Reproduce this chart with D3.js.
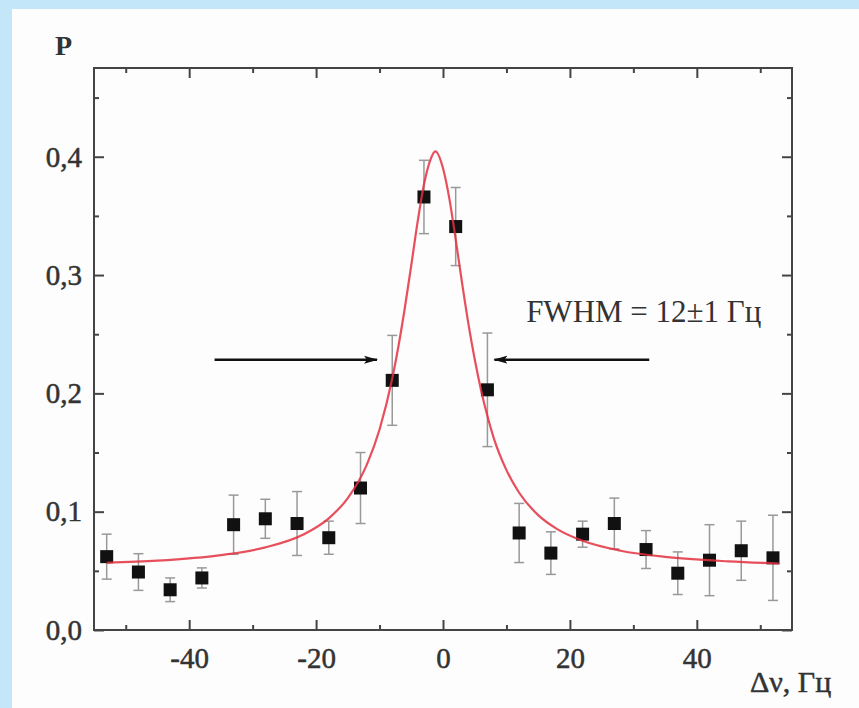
<!DOCTYPE html>
<html>
<head>
<meta charset="utf-8">
<script src="https://cdnjs.cloudflare.com/ajax/libs/d3/7.8.5/d3.min.js"></script>
<style>
body { margin: 0; background: #c4e6f9; }
svg { display: block; }
.tick text { font-family: "Liberation Serif", "DejaVu Serif", serif; font-size: 29px; fill: #333; stroke: #333; stroke-width: 0.5px; }
</style>
</head>
<body>
<svg id="chart" width="859" height="708"></svg>
<script>
// measured points: detuning (Hz), probability, error half-width
var detuning = [-53, -48, -43, -38, -33, -28, -23, -18, -13, -8, -3, 2, 7, 12, 17, 22, 27, 32, 37, 42, 47, 52];
var prob = [0.062, 0.049, 0.034, 0.044, 0.089, 0.094, 0.090, 0.078, 0.120, 0.211, 0.366, 0.341, 0.203,
            0.082, 0.065, 0.081, 0.090, 0.068, 0.048, 0.059, 0.067, 0.061];
var probErr = [0.019, 0.0155, 0.010, 0.0085, 0.025, 0.0165, 0.027, 0.014, 0.030, 0.038, 0.031, 0.033, 0.048,
               0.025, 0.018, 0.011, 0.0215, 0.016, 0.018, 0.030, 0.025, 0.036];

// red fit line
var fitX = [-53, -45, -35, -28, -22, -18, -15, -12, -10, -8, -7, -6, -5, -4, -3, -2, -1.2, 0, 1, 2, 3, 4, 5, 6, 7, 8, 10, 12, 15, 18, 22, 28, 35, 45, 53];
var fitY = [0.0568, 0.0586, 0.0633, 0.0698, 0.0807, 0.0944, 0.1115, 0.1398, 0.1695, 0.2126, 0.2405, 0.2728, 0.3083,
            0.3449, 0.3765, 0.3972, 0.4045, 0.3903, 0.3646, 0.3301, 0.2935, 0.2590, 0.2288, 0.2027, 0.1808, 0.1622,
            0.1351, 0.1160, 0.0971, 0.0853, 0.0754, 0.0670, 0.0618, 0.0580, 0.0562];

var xTicks = [-40, -20, 0, 20, 40];
var xMinor = [-50, -30, -10, 10, 30, 50];
var yTicks = [0, 0.1, 0.2, 0.3, 0.4];
var yMinor = [0.05, 0.15, 0.25, 0.35, 0.45];

// FWHM arrows: [tail, head] in Hz, at level arrowLevel
var arrowLeft = [-36, -10.4];
var arrowRight = [32.5, 8.1];
var arrowLevel = 0.2285;
var fwhmText = "FWHM = 12\u00b11 \u0413\u0446";
var fwhmPos = [13.1, 0.26];

(function () {
var svg = d3.select("#chart");
var left = 94, right = 792, top = 68, bottom = 630;

svg.append("rect").attr("x", 12).attr("y", 9).attr("width", 847).attr("height", 699).attr("fill", "#fdfdfd");

var x = d3.scaleLinear().domain([-55, 55]).range([left, right]);
var y = d3.scaleLinear().domain([0, 0.475]).range([bottom, top]);

function comma(d) { return d3.format(".1f")(d).replace(".", ","); }
function plain(d) { return String(d); }

function drawAxis(axis, tx, ty) {
    var g = svg.append("g").attr("transform", "translate(" + tx + "," + ty + ")").call(axis);
    g.select(".domain").remove();
    g.selectAll(".tick line").attr("stroke", "#444").attr("stroke-width", 2);
    return g;
}

// major + minor ticks, all pointing inward
drawAxis(d3.axisBottom(x).tickValues(xTicks).tickFormat(plain).tickSize(-10).tickPadding(17), 0, bottom);
drawAxis(d3.axisBottom(x).tickValues(xMinor).tickFormat("").tickSize(-5), 0, bottom);
drawAxis(d3.axisTop(x).tickValues(xTicks).tickFormat("").tickSize(-10), 0, top);
drawAxis(d3.axisTop(x).tickValues(xMinor).tickFormat("").tickSize(-5), 0, top);
drawAxis(d3.axisLeft(y).tickValues(yTicks).tickFormat(comma).tickSize(-10).tickPadding(12), left, 0);
drawAxis(d3.axisLeft(y).tickValues(yMinor).tickFormat("").tickSize(-5), left, 0);
drawAxis(d3.axisRight(y).tickValues(yTicks).tickFormat("").tickSize(-10), right, 0);
drawAxis(d3.axisRight(y).tickValues(yMinor).tickFormat("").tickSize(-5), right, 0);

svg.append("rect")
    .attr("x", left).attr("y", top).attr("width", right - left).attr("height", bottom - top)
    .attr("fill", "none").attr("stroke", "#444").attr("stroke-width", 2);

var pts = detuning.map(function (d, i) { return {x: d, y: prob[i], e: probErr[i]}; });

// error bars
var eb = svg.append("g").attr("stroke", "#999").attr("stroke-width", 1.5);
pts.forEach(function (p) {
    var px = x(p.x), y1 = y(p.y + p.e), y2 = y(p.y - p.e);
    eb.append("line").attr("x1", px).attr("x2", px).attr("y1", y1).attr("y2", y2);
    eb.append("line").attr("x1", px - 5).attr("x2", px + 5).attr("y1", y1).attr("y2", y1);
    eb.append("line").attr("x1", px - 5).attr("x2", px + 5).attr("y1", y2).attr("y2", y2);
});

svg.append("g").selectAll("rect").data(pts).enter().append("rect")
    .attr("x", function (d) { return x(d.x) - 6.5; })
    .attr("y", function (d) { return y(d.y) - 6.5; })
    .attr("width", 13).attr("height", 13)
    .attr("fill", "#111");

var fit = fitX.map(function (d, i) { return [d, fitY[i]]; });
var line = d3.line().x(function (d) { return x(d[0]); }).y(function (d) { return y(d[1]); }).curve(d3.curveMonotoneX);
svg.append("path").datum(fit).attr("d", line)
    .attr("fill", "none").attr("stroke", "#e3303f").attr("stroke-width", 2.2).attr("stroke-opacity", 0.85);

// arrows
svg.append("defs").append("marker")
    .attr("id", "head").attr("markerUnits", "userSpaceOnUse")
    .attr("markerWidth", 14).attr("markerHeight", 10).attr("refX", 13).attr("refY", 5).attr("orient", "auto")
    .append("path").attr("d", "M0,1 L14,5 L0,9 L3,5 Z").attr("fill", "#111");

[arrowLeft, arrowRight].forEach(function (a) {
    svg.append("line")
        .attr("x1", x(a[0])).attr("x2", x(a[1]))
        .attr("y1", y(arrowLevel)).attr("y2", y(arrowLevel))
        .attr("stroke", "#111").attr("stroke-width", 2.5)
        .attr("marker-end", "url(#head)");
});

var serif = "'Liberation Serif', 'DejaVu Serif', serif";
svg.append("text").attr("x", x(fwhmPos[0])).attr("y", y(fwhmPos[1]))
    .attr("font-family", serif).attr("font-size", 31).attr("fill", "#333").text(fwhmText);

svg.append("text").attr("x", 55).attr("y", 55)
    .attr("font-family", serif).attr("font-size", 28).attr("font-weight", "bold").attr("fill", "#333").text("P");
svg.append("text").attr("x", 750).attr("y", 692)
    .attr("font-family", serif).attr("font-size", 30).attr("fill", "#333")
    .attr("stroke", "#333").attr("stroke-width", 0.5).text("\u0394\u03bd, \u0413\u0446");
})();
</script>
</body>
</html>
